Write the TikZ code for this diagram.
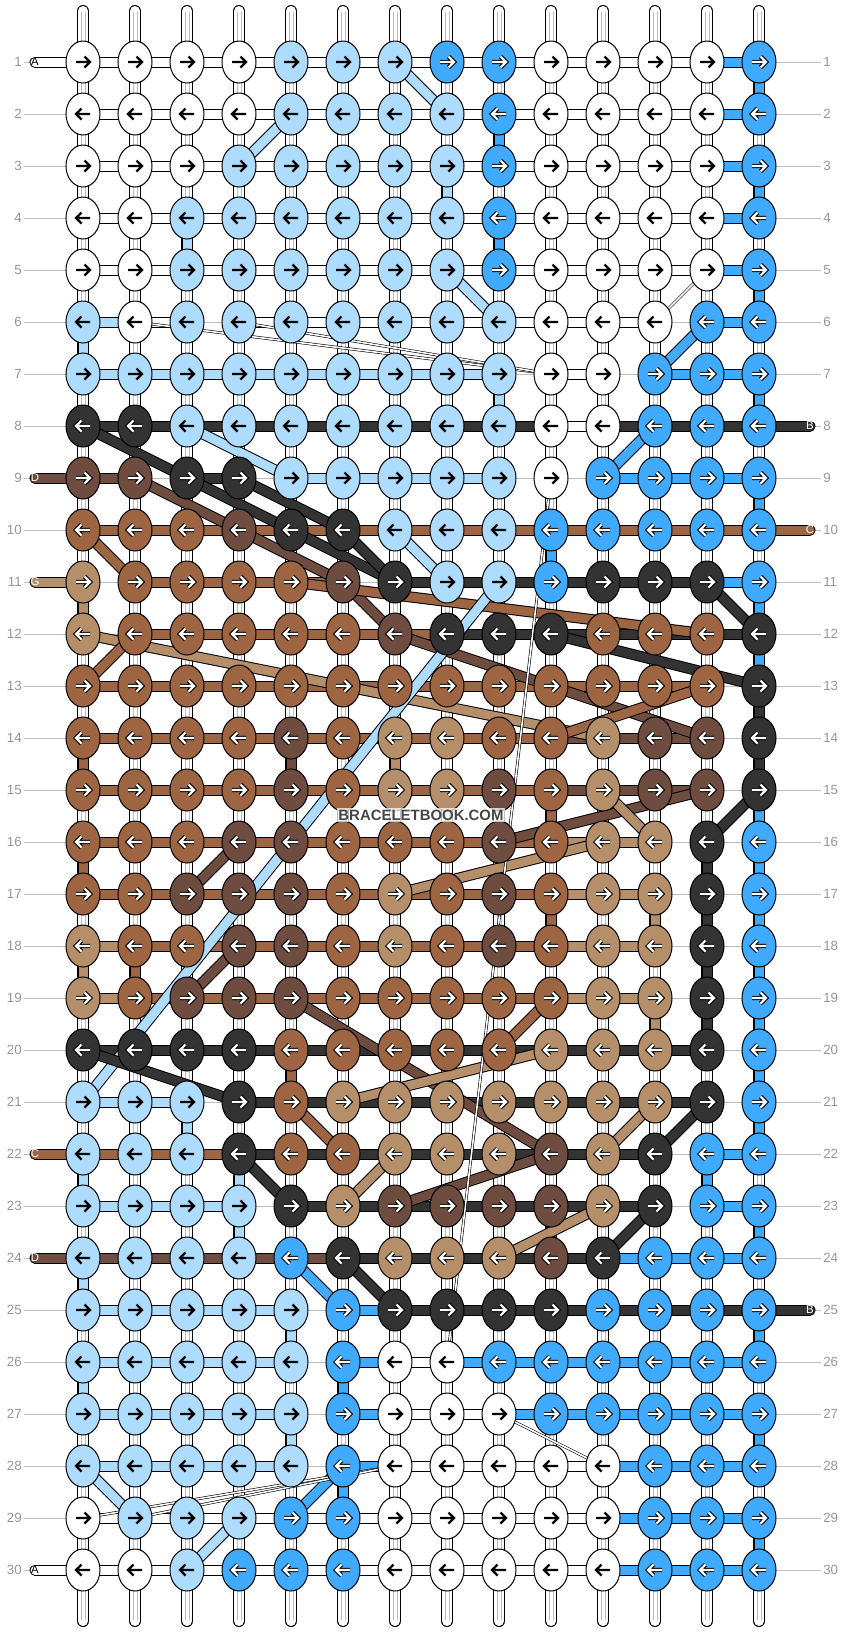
\documentclass[tikz,border=0pt]{standalone}
\usepackage{fontspec}
\setmainfont{Liberation Sans}
\usetikzlibrary{shapes.geometric}

\definecolor{cW}{RGB}{255,255,255}
\definecolor{cL}{RGB}{174,220,255}
\definecolor{cB}{RGB}{64,170,255}
\definecolor{cK}{RGB}{51,51,51}
\definecolor{cD}{RGB}{110,76,64}
\definecolor{cC}{RGB}{158,101,66}
\definecolor{cG}{RGB}{181,142,106}
\colorlet{aW}{black}\colorlet{aL}{black}\colorlet{aB}{white}\colorlet{aK}{white}
\colorlet{aD}{white}\colorlet{aC}{white}\colorlet{aG}{white}
\colorlet{oW}{cW}\colorlet{oL}{cL}\colorlet{oB}{black}\colorlet{oK}{black}
\colorlet{oD}{black}\colorlet{oC}{black}\colorlet{oG}{black}
\definecolor{guidegray}{RGB}{190,190,190}
\definecolor{numgray}{RGB}{150,150,150}
\definecolor{markgray}{RGB}{70,70,70}

\pgfdeclarelayer{lines}
\pgfdeclarelayer{strands}
\pgfdeclarelayer{bars}
\pgfdeclarelayer{cross}
\pgfsetlayers{lines,strands,bars,cross,main}

\tikzset{
  knot/.style={ellipse, draw=black, line width=0.75pt, fill=c#1, minimum width=25.5pt, minimum height=31.5pt, inner sep=0pt},
  arrow/.style={draw=a#1, line width=1.65pt, preaction={draw=o#1, line width=3.2pt}},
  bar/.style={draw=black, line width=0.75pt, double=c#1, double distance=6.75pt},
  strand/.style={draw=black, line width=0.75pt, double=white, double distance=7.5pt, line cap=round},
  strandline/.style={draw=guidegray, line width=0.6pt},
  thread/.style={draw=black, line width=0.45pt, double=white, double distance=1.2pt},
  rowline/.style={draw=guidegray, line width=0.75pt},
  rownum/.style={text=numgray, font=\fontsize{10}{11}\selectfont, inner sep=1.5pt},
  edgelab/.style={text=#1, font=\fontsize{8.5}{9}\selectfont, inner sep=0pt},
  watermark/.style={text=markgray, font=\fontsize{11.2}{13}\selectfont\bfseries, fill=white, fill opacity=0.75, text opacity=1, inner sep=1pt}
}

\begin{document}
\begin{tikzpicture}[x=0.75pt,y=-0.75pt]
\useasboundingbox (0,0) rectangle (844,1632);

\foreach \row [count=\r] in {
  {W,W,W,W,L,L,L,B,B,W,W,W,W,B},
  {W,W,W,W,L,L,L,L,B,W,W,W,W,B},
  {W,W,W,L,L,L,L,L,B,W,W,W,W,B},
  {W,W,L,L,L,L,L,L,B,W,W,W,W,B},
  {W,W,L,L,L,L,L,L,B,W,W,W,W,B},
  {L,W,L,L,L,L,L,L,L,W,W,W,B,B},
  {L,L,L,L,L,L,L,L,L,W,W,B,B,B},
  {K,K,L,L,L,L,L,L,L,W,W,B,B,B},
  {D,D,K,K,L,L,L,L,L,W,B,B,B,B},
  {C,C,C,D,K,K,L,L,L,B,B,B,B,B},
  {G,C,C,C,C,D,K,L,L,B,K,K,K,B},
  {G,C,C,C,C,C,D,K,K,K,C,C,C,K},
  {C,C,C,C,C,C,C,C,C,C,C,C,C,K},
  {C,C,C,C,D,C,G,G,C,C,G,D,D,K},
  {C,C,C,C,D,C,G,G,D,C,G,D,D,K},
  {C,C,C,D,D,C,C,C,D,C,G,G,K,B},
  {C,C,D,D,D,C,G,C,D,C,G,G,K,B},
  {G,C,C,D,D,C,G,C,D,C,G,G,K,B},
  {G,C,D,D,D,C,C,C,C,C,G,G,K,B},
  {K,K,K,K,C,C,C,C,C,G,G,G,K,B},
  {L,L,L,K,C,G,G,G,G,G,G,G,K,B},
  {L,L,L,K,C,C,G,G,G,D,G,K,B,B},
  {L,L,L,L,K,G,D,D,D,D,G,K,B,B},
  {L,L,L,L,B,K,G,G,G,D,K,B,B,B},
  {L,L,L,L,L,B,K,K,K,K,B,B,B,B},
  {L,L,L,L,L,B,W,W,B,B,B,B,B,B},
  {L,L,L,L,L,B,W,W,W,B,B,B,B,B},
  {L,L,L,L,L,B,W,W,W,W,W,B,B,B},
  {W,L,L,L,B,B,W,W,W,W,W,B,B,B},
  {W,W,L,B,B,B,W,W,W,W,W,B,B,B}}{
  \pgfmathsetmacro\d{1-2*mod(\r+1,2)}
  \foreach \k [count=\c] in \row {
    \node[knot=\k] (k\r-\c) at ({31+52*\c},{10+52*\r}) {};
    \draw[arrow=\k] (k\r-\c.center) ++(-7*\d,0) -- ++(14*\d,0) ++(-5.5*\d,-5.5) -- ++(5.5*\d,5.5) -- ++(-5.5*\d,5.5);
  }
}

\foreach \r in {1,...,30}{
  \node[rownum, anchor=east] (nl\r) at (24,{10+52*\r}) {\r};
  \node[rownum, anchor=west] (nr\r) at (821,{10+52*\r}) {\r};
  \begin{pgfonlayer}{lines}
    \draw[rowline] (nl\r.east) -- (nr\r.west);
  \end{pgfonlayer}
}

\begin{pgfonlayer}{strands}
\foreach \c in {1,...,14}{
  \coordinate (st\c) at ({31+52*\c},11);
  \coordinate (sb\c) at ({31+52*\c},1621);
  \draw[strand] (st\c) -- (sb\c);
  \draw[strandline] ({29+52*\c},12) -- ({29+52*\c},1620);
  \draw[strandline] ({33+52*\c},12) -- ({33+52*\c},1620);
}
\end{pgfonlayer}

\foreach \r/\g/\lc/\ltr in {1/W/black/A,9/D/white/D,11/G/white/G,22/C/white/C,24/D/white/D,30/W/black/A}{
  \node[edgelab=\lc] (el\r) at (35,{10+52*\r}) {\ltr};
  \begin{pgfonlayer}{bars}
    \draw[bar=\g, line cap=round] (el\r.center) -- (k\r-1.center);
  \end{pgfonlayer}
}
\foreach \r/\g/\lc/\ltr in {8/K/white/B,10/C/white/C,25/K/white/B}{
  \node[edgelab=\lc] (er\r) at (810,{10+52*\r}) {\ltr};
  \begin{pgfonlayer}{bars}
    \draw[bar=\g, line cap=round] (k\r-14.center) -- (er\r.center);
  \end{pgfonlayer}
}

\begin{pgfonlayer}{bars}
\foreach \gaps [count=\r] in {
  {W,W,W,W,W,W,W,W,W,W,W,W,B},
  {W,W,W,W,W,W,W,W,W,W,W,W,B},
  {W,W,W,W,W,W,W,W,W,W,W,W,B},
  {W,W,W,W,W,W,W,W,W,W,W,W,B},
  {W,W,W,W,W,W,W,W,W,W,W,W,B},
  {L,W,N,W,W,W,W,W,W,W,W,N,B},
  {L,L,L,L,L,L,L,L,N,W,N,B,B},
  {K,K,K,K,K,K,K,K,K,W,K,K,K},
  {D,N,K,N,L,L,L,L,N,N,B,B,B},
  {C,C,C,C,C,C,C,C,C,C,C,C,C},
  {N,C,C,C,C,N,K,K,K,K,K,K,B},
  {N,C,C,C,C,C,C,K,K,K,K,K,K},
  {C,C,C,C,C,C,C,C,C,C,C,C,N},
  {C,C,C,C,C,C,C,C,C,D,D,D,N},
  {C,C,C,C,C,C,C,C,C,D,D,D,N},
  {C,C,C,C,C,C,C,C,C,G,G,N,N},
  {C,C,C,C,C,C,C,C,C,G,G,N,N},
  {G,C,C,C,C,C,C,C,C,G,G,N,N},
  {G,C,C,C,C,C,C,C,C,G,G,N,N},
  {K,K,K,K,K,K,K,K,K,K,K,K,N},
  {L,L,N,K,K,K,K,K,K,K,K,K,N},
  {C,C,C,K,K,K,K,K,K,K,K,N,B},
  {L,L,L,N,K,K,K,K,K,K,K,N,B},
  {D,D,D,D,D,K,K,K,K,K,B,B,B},
  {L,L,L,L,N,B,K,K,K,K,K,K,K},
  {L,L,L,L,N,B,W,B,B,B,B,B,B},
  {L,L,L,L,N,B,W,W,B,B,B,B,B},
  {L,L,L,L,N,B,W,W,W,W,B,B,B},
  {W,W,W,W,W,W,W,W,W,W,B,B,B},
  {W,W,W,W,W,W,W,W,W,W,B,B,B}}{
  \foreach \g [count=\c] in \gaps {
    \if N\g\else
      \pgfmathtruncatemacro\cn{\c+1}
      \draw[bar=\g] (k\r-\c.center) -- (k\r-\cn.center);
    \fi
  }
}
\foreach \r/\c/\g in {1/14/B,3/14/B,5/14/B,7/14/B,9/14/B,11/14/B,12/14/B,13/14/K,14/14/K,
  15/14/B,16/14/B,17/14/B,18/14/B,19/14/B,20/14/B,21/14/B,23/14/B,25/14/B,27/14/B,29/14/B,
  2/9/B,4/9/B,3/8/L,4/3/L,6/1/L,7/9/L,10/10/B,11/1/G,14/1/C,16/1/C,14/5/D,14/7/G,
  15/10/C,17/10/C,16/13/K,17/13/K,18/13/K,19/13/K,17/12/G,19/12/G,18/1/G,18/2/C,
  20/5/C,21/3/L,22/1/L,24/1/L,26/1/L,22/4/L,23/4/L,22/13/B,23/10/D,25/5/L,27/5/L,
  26/6/B,28/6/B}{
  \pgfmathtruncatemacro\rn{\r+1}
  \draw[bar=\g] (k\r-\c.center) -- (k\rn-\c.center);
}
\end{pgfonlayer}

\begin{pgfonlayer}{cross}
\foreach \g/\a/\b in {L/1-7/2-8,L/2-5/3-4,L/5-8/6-9,B/6-13/7-12,L/8-3/9-5,B/8-12/9-11,
  K/8-1/9-3,K/9-3/10-5,K/10-5/11-7,K/9-4/10-6,K/10-6/11-7,D/9-2/10-4,D/10-4/11-6,
  C/10-1/11-2,L/10-7/11-8,D/11-6/12-7,C/11-5/12-13,K/11-13/12-14,G/12-1/14-11,
  C/13-1/12-2,D/12-7/14-13,K/12-10/13-14,C/14-10/13-13,L/11-9/21-1,D/15-13/16-9,
  G/15-11/16-12,K/15-14/16-13,D/16-4/17-3,G/17-7/16-11,D/18-4/19-3,D/19-5/22-10,
  C/19-10/20-9,G/20-10/21-6,K/20-1/21-4,C/21-5/22-6,G/22-11/21-12,K/22-12/21-13,
  K/22-4/23-5,G/23-6/22-7,D/23-7/22-10,G/23-11/24-9,K/24-11/23-12,B/24-5/25-6,
  K/24-6/25-7,L/28-1/29-2,B/29-5/28-6,L/30-3/29-4}{
  \draw[bar=\g] (k\a.center) -- (k\b.center);
}
\foreach \a/\b in {6-2/7-10,6-4/7-10,5-13/6-12,9-10/26-8,27-9/28-11,28-7/29-1,28-7/29-2}{
  \draw[thread] (k\a.center) -- (k\b.center);
}
\end{pgfonlayer}

\node[watermark] (mark) at (421,815) {BRACELETBOOK.COM};
\end{tikzpicture}
\end{document}
